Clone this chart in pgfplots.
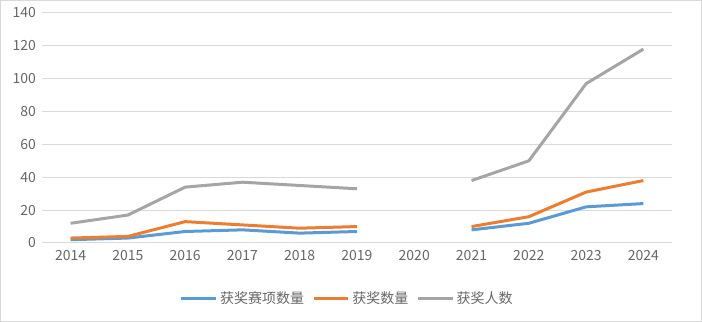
\documentclass[border=0pt]{standalone}
\usepackage{fontspec}
\setmainfont{Noto Sans CJK SC}
\usepackage{pgfplots}
\pgfplotsset{compat=1.18}
\definecolor{xblue}{HTML}{5B9BD5}
\definecolor{xorange}{HTML}{ED7D31}
\definecolor{xgray}{HTML}{A5A5A5}
\definecolor{gridc}{HTML}{D9D9D9}
\definecolor{txt}{HTML}{666666}
\begin{document}
\begin{tikzpicture}
\draw[gridc, line width=0.75pt] (0.4pt,0.4pt) rectangle (526.1pt,241.1pt);
\begin{axis}[
  at={(31.5pt,59.25pt)}, anchor=south west,
  scale only axis, width=472.5pt, height=172.5pt,
  xmin=2013.5, xmax=2024.5, ymin=0, ymax=140,
  xtick={2014,...,2024},
  xticklabels={2014,2015,2016,2017,2018,2019,2020,2021,2022,2023,2024},
  ytick={0,20,...,140},
  /pgf/number format/assume math mode=true,
  ymajorgrids, grid style={gridc, line width=0.75pt},
  axis line style={draw=none},
  axis x line*=bottom,
  major tick length=0pt,
  tick label style={txt, font=\fontsize{10.5}{12}\selectfont},
  yticklabel style={xshift=-1pt},
  xticklabel style={yshift=-2pt},
  unbounded coords=jump,
  legend columns=3,
  legend style={at={(0.485,-0.24)}, anchor=center, draw=none, fill=none,
    font=\fontsize{10.5}{12}\selectfont, text=txt,
    /tikz/every even column/.append style={column sep=4pt}},
  legend image code/.code={\draw[#1] (0pt,0pt) -- (26pt,0pt);},
  every axis plot/.append style={line width=2.25pt, line join=round},
]
\draw[gridc, line width=0.75pt] (axis cs:2013.5,0) -- (axis cs:2024.5,0);
\addplot[xblue, mark=none] coordinates {(2014,2) (2015,3) (2016,7) (2017,8) (2018,6) (2019,7) (2020,nan) (2021,8) (2022,12) (2023,22) (2024,24)};
\addlegendentry{获奖赛项数量}
\addplot[xorange, mark=none] coordinates {(2014,3) (2015,4) (2016,13) (2017,11) (2018,9) (2019,10) (2020,nan) (2021,10) (2022,16) (2023,31) (2024,38)};
\addlegendentry{获奖数量}
\addplot[xgray, mark=none] coordinates {(2014,12) (2015,17) (2016,34) (2017,37) (2018,35) (2019,33) (2020,nan) (2021,38) (2022,50) (2023,97) (2024,118)};
\addlegendentry{获奖人数}
\end{axis}
\end{tikzpicture}
\end{document}
